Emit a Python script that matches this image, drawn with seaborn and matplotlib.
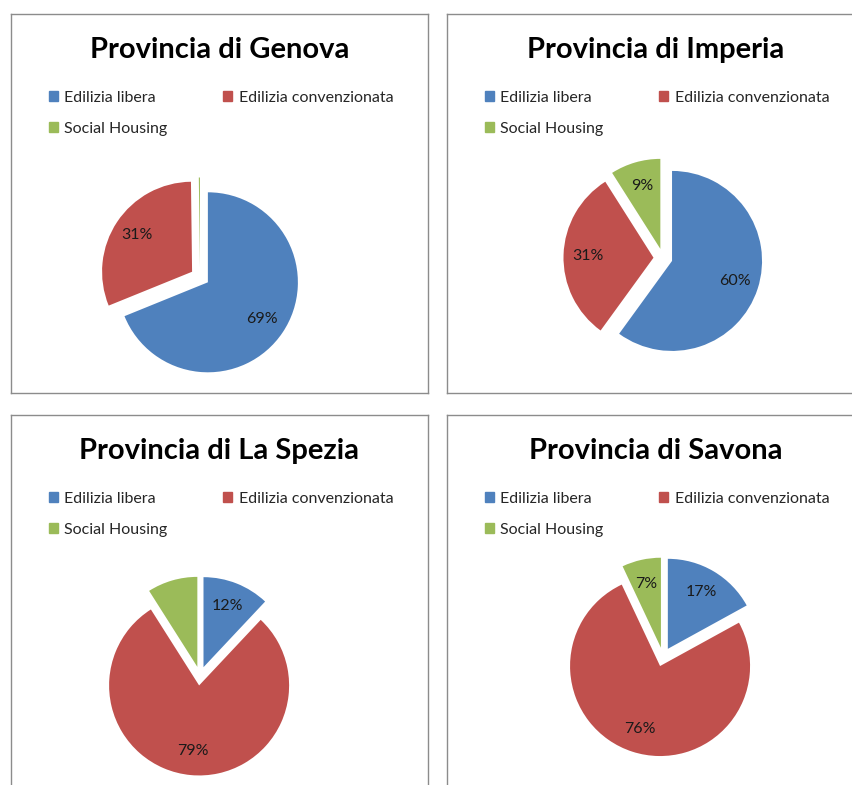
import matplotlib
matplotlib.use("Agg")
import matplotlib.pyplot as plt
from matplotlib.patches import Patch
import seaborn as sns

# dati (percentuali)
provinces = ["Provincia di Genova", "Provincia di Imperia",
             "Provincia di La Spezia", "Provincia di Savona"]
categories = ["Edilizia libera", "Edilizia convenzionata", "Social Housing"]
libera = [69, 60, 12, 17]
convenzionata = [31, 31, 79, 76]
social = [0.2, 9, 9, 7]
show_social_label = [False, True, False, True]

sns.set_style("white")
plt.rcParams["font.family"] = ["Lato", "DejaVu Sans"]
colors = sns.color_palette(["#4F81BD", "#C0504D", "#9BBB59"])

W, H = 853, 785
fig = plt.figure(figsize=(W / 100, H / 100), dpi=100)

box_w, box_h = 417, 379
boxes = [(11, 14), (447, 14), (11, 415), (447, 415)]
centers = [(189, 263), (216, 244), (189, 261), (216, 242)]

for i, name in enumerate(provinces):
    x0, y0 = boxes[i]
    ax = fig.add_axes([x0 / W, 1 - (y0 + box_h) / H, box_w / W, box_h / H])
    values = [libera[i], convenzionata[i], social[i]]
    cx, cy = centers[i]
    wedges, texts, autotexts = ax.pie(
        values, colors=colors, startangle=90, counterclock=False,
        explode=[9.5] * 3, radius=90, center=(cx, box_h - cy),
        autopct="%.0f%%", pctdistance=0.73, frame=True,
        textprops=dict(fontsize=11.5, color="#1a1a1a"),
        wedgeprops=dict(linewidth=0),
    )
    if not show_social_label[i]:
        autotexts[2].set_visible(False)

    ax.set_xlim(0, box_w)
    ax.set_ylim(0, box_h)
    ax.set_aspect("auto")
    ax.set_xticks([])
    ax.set_yticks([])
    for sp in ax.spines.values():
        sp.set_visible(True)
        sp.set_color("#8c8c8c")
        sp.set_linewidth(1.0)

    ax.text(box_w / 2, box_h - 44, name, ha="center", va="baseline",
            fontsize=21, fontweight="bold", color="black")

    # ordine riga per riga come nella legenda di Excel
    handles = [Patch(color=colors[0]), Patch(color=colors[2]), Patch(color=colors[1])]
    labels = [categories[0], categories[2], categories[1]]
    ax.legend(handles, labels, ncol=2, loc="upper left",
              bbox_to_anchor=(38 / box_w, 1 - 77 / box_h),
              frameon=False, fontsize=11.5, handlelength=0.56, handleheight=0.56,
              handletextpad=0.4, columnspacing=3.5, labelspacing=1.05,
              borderpad=0, borderaxespad=0)

fig.savefig("out.png", dpi=100)
